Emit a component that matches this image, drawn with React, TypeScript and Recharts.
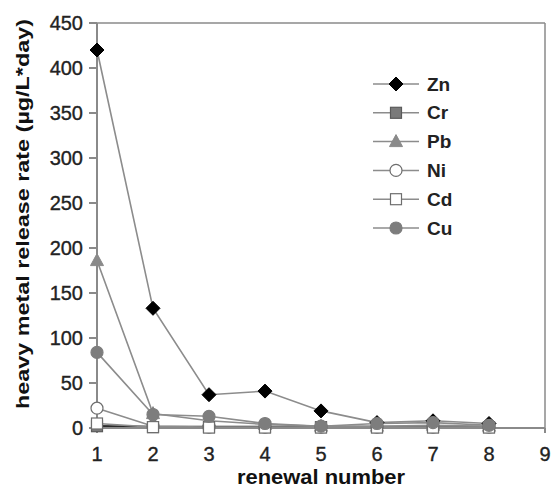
import React from 'react'
import { LineChart, Line, XAxis, YAxis, ReferenceLine } from 'recharts'

const renewals = [1, 2, 3, 4, 5, 6, 7, 8]
const zn = [420, 133, 37, 41, 19, 6, 8, 5]
const cr = [2, 1, 1, 1, 1, 1, 1, 1]
const pb = [186, 16, 8, 4, 2, 2, 3, 2]
const ni = [22, 2, 1, 1, 1, 1, 1, 1]
const cd = [5, 1, 0.5, 0.5, 0.5, 0.5, 0.5, 0.5]
const cu = [84, 15, 13, 5, 2, 5, 6, 3]

const xTicks = [1, 2, 3, 4, 5, 6, 7, 8, 9]
const yTicks = [0, 50, 100, 150, 200, 250, 300, 350, 400, 450]

const data = renewals.map((r, i) => ({
  r, Zn: zn[i], Cr: cr[i], Pb: pb[i], Ni: ni[i], Cd: cd[i], Cu: cu[i],
}))

const AXIS = '#8a8a8a'
const LINE = '#8c8c8c'
const FONT = 'Liberation Sans, Arial, sans-serif'

type Kind = 'diamond' | 'square' | 'triangle' | 'circle'

function Marker({ cx, cy, kind, fill, stroke }: { cx: number; cy: number; kind: Kind; fill: string; stroke: string }) {
  if (cx == null || cy == null) return null
  if (kind === 'diamond') {
    const s = 7
    return <polygon points={`${cx},${cy - s} ${cx + s},${cy} ${cx},${cy + s} ${cx - s},${cy}`} fill={fill} stroke={stroke} />
  }
  if (kind === 'square') {
    return <rect x={cx - 5.5} y={cy - 5.5} width={11} height={11} fill={fill} stroke={stroke} strokeWidth={1.2} />
  }
  if (kind === 'triangle') {
    return <polygon points={`${cx},${cy - 7} ${cx + 6.5},${cy + 5} ${cx - 6.5},${cy + 5}`} fill={fill} stroke={stroke} />
  }
  return <circle cx={cx} cy={cy} r={6} fill={fill} stroke={stroke} strokeWidth={1.2} />
}

const series: { key: string; kind: Kind; fill: string; stroke: string; line: string }[] = [
  { key: 'Zn', kind: 'diamond', fill: '#000', stroke: '#000', line: LINE },
  { key: 'Cr', kind: 'square', fill: '#7a7a7a', stroke: '#5a5a5a', line: '#2a2a2a' },
  { key: 'Pb', kind: 'triangle', fill: '#8a8a8a', stroke: '#8a8a8a', line: LINE },
  { key: 'Ni', kind: 'circle', fill: '#fff', stroke: '#6e6e6e', line: LINE },
  { key: 'Cd', kind: 'square', fill: '#fff', stroke: '#6e6e6e', line: LINE },
  { key: 'Cu', kind: 'circle', fill: '#7d7d7d', stroke: '#7d7d7d', line: LINE },
]

function LegendBox() {
  return (
    <svg width={110} height={175} style={{ position: 'absolute', left: 371, top: 72 }}>
      {series.map((s, i) => {
        const y = 12 + i * 28.8
        return (
          <g key={s.key}>
            <line x1={2} x2={48} y1={y} y2={y} stroke={LINE} strokeWidth={1.5} />
            <Marker cx={25} cy={y} kind={s.kind} fill={s.fill} stroke={s.stroke} />
            <text x={56} y={y + 6.5} fontSize={19} fontWeight="bold" fill="#222" fontFamily={FONT}>{s.key}</text>
          </g>
        )
      })}
    </svg>
  )
}

function YTitle() {
  return (
    <text
      x={22} y={214} transform="rotate(-90 22 214)" textAnchor="middle" dominantBaseline="central"
      fontSize={19} fontWeight="bold" fill="#111" fontFamily={FONT}
      textLength={390} lengthAdjust="spacingAndGlyphs"
    >
      heavy metal release rate (µg/L*day)
    </text>
  )
}

function XTitle() {
  return (
    <text
      x={321} y={477} textAnchor="middle" dominantBaseline="central"
      fontSize={20} fontWeight="bold" fill="#111" fontFamily={FONT}
      textLength={168} lengthAdjust="spacingAndGlyphs"
    >
      renewal number
    </text>
  )
}

const tickStyle = { fontSize: 20, fill: '#222', fontFamily: FONT, stroke: '#222', strokeWidth: 0.35 }

export default function App() {
  return (
    <div style={{ position: 'absolute', left: 0, top: 0, width: 551, height: 492, background: '#fff' }}>
      <LineChart width={551} height={492} data={data} margin={{ top: 23, right: 6, bottom: 0, left: 0 }}>
        <XAxis
          dataKey="r" type="number" domain={[1, 9]} ticks={xTicks} interval={0}
          stroke={AXIS} strokeWidth={2} tickSize={5} tickMargin={14}
          tick={tickStyle}
          height={64}
          label={<XTitle />}
        />
        <YAxis
          type="number" domain={[0, 450]} ticks={yTicks} interval={0}
          stroke={AXIS} strokeWidth={2} tickSize={8} tickMargin={6}
          tick={tickStyle}
          width={97}
          label={<YTitle />}
        />
        <ReferenceLine y={450} stroke={AXIS} strokeWidth={1.5} />
        <ReferenceLine x={9} stroke={AXIS} strokeWidth={1.5} />
        {series.map(s => (
          <Line
            key={s.key} dataKey={s.key} stroke={s.line} strokeWidth={s.key === 'Cr' ? 2.5 : 1.6}
            isAnimationActive={false}
            dot={(p: any) => <Marker key={`${s.key}-${p.index}`} cx={p.cx} cy={p.cy} kind={s.kind} fill={s.fill} stroke={s.stroke} />}
            activeDot={false}
          />
        ))}
      </LineChart>
      <LegendBox />
    </div>
  )
}
